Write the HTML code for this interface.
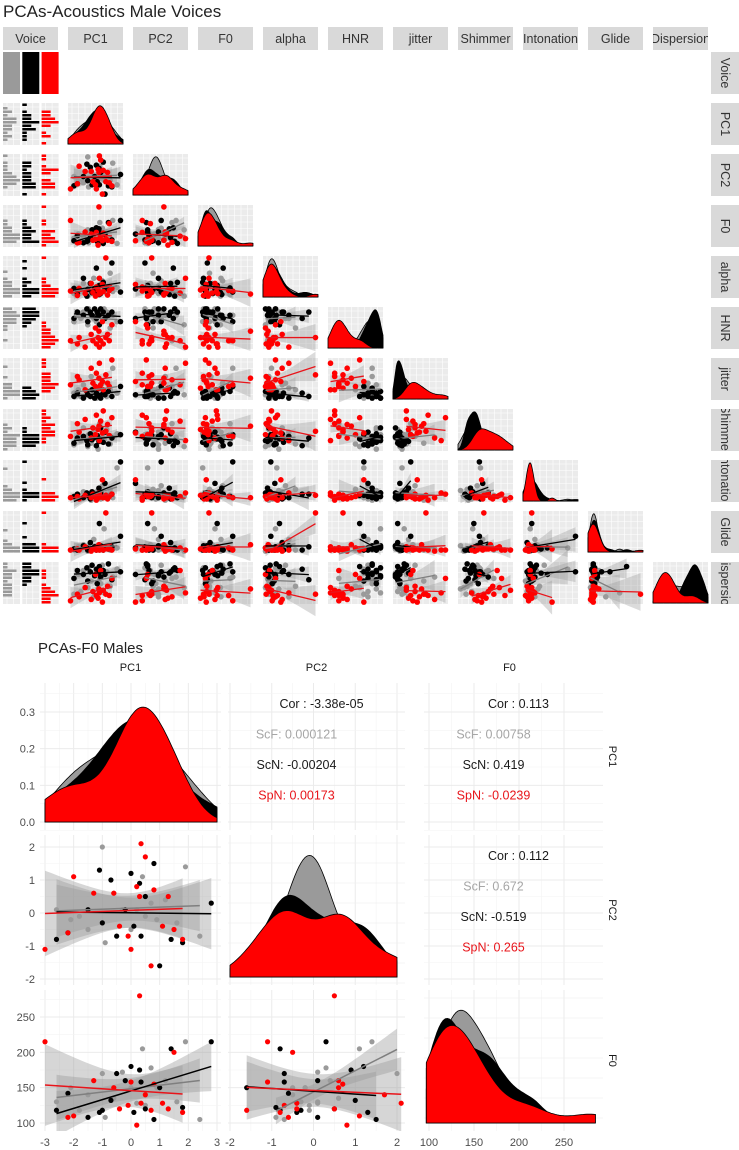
<!DOCTYPE html>
<html><head><meta charset="utf-8"><style>
body{margin:0;background:#fff;}
svg{display:block;font-family:"Liberation Sans",Arial,sans-serif;}
</style></head><body>
<svg id="chart" width="739" height="1150" viewBox="0 0 739 1150" xmlns="http://www.w3.org/2000/svg"></svg>
<script>
// ---- data ----
const groups = ['ScF','ScN','SpN'];
const groupColors = ['#9a9a9a','#000000','#ff0000'];
const varNames = ['PC1','PC2','F0','alpha','HNR','jitter','Shimmer','Intonation','Glide','Dispersion'];
const pc1 = [
 [-2.6,-2.1,-1.8,-1.5,-1.0,-0.9,-0.6,-0.3,0,0.2,0.4,0.5,0.7,0.9,1.2,1.6,1.9,2.4],
 [-2.6,-2.2,-1.5,-1.1,-1.0,-0.7,-0.5,-0.2,0,0.1,0.3,0.35,0.5,0.8,1.0,1.4,1.8,2.8],
 [-3.0,-2.2,-2.0,-1.3,-0.6,-0.4,-0.1,0,0.2,0.3,0.35,0.5,0.7,0.8,1.1,1.3,1.5,1.8]];
const pc2 = [
 [0.1,-0.2,-0.1,-0.5,2.0,-0.9,0.6,0.1,-0.5,0.1,1.1,-0.1,0.3,-0.2,0.4,-0.3,1.4,-0.7],
 [-0.8,-0.6,0.1,1.3,-0.3,1.0,-0.7,0.1,1.2,-0.4,0.9,-0.7,0.5,1.5,-1.6,-0.8,-0.9,0.3],
 [-1.1,-0.6,1.1,0.6,0.6,-0.4,-0.7,-1.1,0.8,0.5,2.1,1.7,-1.6,0.7,-0.4,0.5,-0.5,-0.8]];
const f0 = [
 [130,150,118,140,170,108,135,172,150,128,205,125,178,150,160,130,215,105],
 [118,142,108,115,118,132,170,160,180,115,175,158,120,105,150,205,122,215],
 [215,108,110,160,150,120,125,158,97,280,128,140,118,155,128,120,200,115]];
const alpha = [
 [2,3,2.5,4,1.5,3,2,5,2.2,3.5,1.8,2.6,4.5,3,2,6,2.4,3.2],
 [3,2,5,1.5,2.8,4,2.2,3,7,2.5,1.8,3.6,2,4.2,2.9,3.1,8,2.3],
 [2.5,1.6,3,2,4,2.2,1.5,3.3,2.7,1.9,5,2.1,3.8,2.4,9,1.7,2.6,3]];
const hnr = [
 [14,16,15,17,13,18,16,15,14,17,8,16,15,18,17,12,16,14],
 [15,17,16,18,14,17,16,18,15,17,16,13,18,17,15,16,17,14],
 [8,7,9,6,10,8,12,7,9,11,6,8,14,7,9,10,8,13]];
const jitter = [
 [1,1.2,0.8,1.5,0.9,1.1,2,1.3,0.7,1,1.4,0.9,1.6,1.1,0.8,1.2,2.5,1],
 [0.8,1,0.7,1.1,0.9,0.8,1.2,0.7,1,0.9,1.3,0.8,0.7,1,0.9,1.1,0.8,1.4],
 [1.5,2,1.8,1.2,2.5,1.6,1.4,2.2,1.3,1.9,2.8,1.5,1.7,1.2,2.1,1.6,1.4,3]];
const shimmer = [
 [4,5,4.5,6,3.8,5.2,4.2,5.5,4.8,3.5,6.5,4.4,5,4.6,5.8,4.1,4.9,5.3],
 [4.2,4.8,5,4.5,4,5.3,4.6,4.9,3.9,5.1,4.4,4.7,6,4.3,5.5,4.1,4.8,5.2],
 [5,6.5,5.5,7,4.8,6,5.2,7.5,5.8,6.2,4.5,6.8,5.4,8,5.6,6.4,5.1,7.2]];
const intonation = [
 [2,2.2,1.9,2.5,2.1,2.3,1.8,2.4,2,2.6,2.2,1.9,3,2.1,2.3,2.7,2,4.5],
 [2.1,2.3,2,2.4,2.2,1.9,2.5,2.1,2.3,2,2.8,2.2,2.4,2,3.2,2.1,2.3,5],
 [2,2.1,1.9,2.2,2,2.3,2.1,1.8,2.2,2,2.4,2.1,3.5,2,2.2,1.9,2.1,2.3]];
const glide = [
 [0.5,0.8,0.6,1,0.4,0.7,0.5,1.5,0.6,0.9,0.5,0.7,0.6,2.5,0.8,0.5,0.6,0.7],
 [0.6,0.5,0.9,0.7,0.5,1.2,0.6,0.8,0.5,0.7,0.6,3,0.9,0.5,0.7,0.6,0.8,1.8],
 [0.5,0.6,0.5,0.8,0.4,0.6,0.7,0.5,0.6,1,0.5,0.7,0.6,0.5,4,0.6,0.7,0.5]];
const dispersion = [
 [40,55,42,58,45,60,50,38,56,44,52,48,62,41,57,46,53,59],
 [52,58,55,60,50,57,62,54,59,48,56,61,53,58,55,63,51,57],
 [35,40,38,45,36,42,55,39,37,44,41,58,34,43,40,46,39,52]];
const allVars = [pc1,pc2,f0,alpha,hnr,jitter,shimmer,intonation,glide,dispersion];
const pc1Ticks = [-3,-2,-1,0,1,2,3];
const pc2Ticks = [-2,-1,0,1,2];
const f0Ticks = [100,150,200,250];
const densTicks = [0.0,0.1,0.2,0.3];
const corPC1PC2 = ['Cor : -3.38e-05','ScF: 0.000121','ScN: -0.00204','SpN: 0.00173'];
const corPC1F0 = ['Cor : 0.113','ScF: 0.00758','ScN: 0.419','SpN: -0.0239'];
const corPC2F0 = ['Cor : 0.112','ScF: 0.672','ScN: -0.519','SpN: 0.265'];

// ---- helpers ----
const svg = document.getElementById('chart');
const NS = 'http://www.w3.org/2000/svg';
function el(tag, attrs, parent){const e=document.createElementNS(NS,tag);for(const k in attrs)e.setAttribute(k,attrs[k]);(parent||svg).appendChild(e);return e;}
function lin(d0,d1,r0,r1){return v=>r0+(v-d0)/(d1-d0)*(r1-r0);}
function mean(a){return a.reduce((s,v)=>s+v,0)/a.length;}
function sd(a){const m=mean(a);return Math.sqrt(a.reduce((s,v)=>s+(v-m)*(v-m),0)/(a.length-1));}
function kde(a,x){const h=1.06*sd(a)*Math.pow(a.length,-0.2)*0.85;let s=0;for(const v of a){const u=(x-v)/h;s+=Math.exp(-0.5*u*u);}return s/(a.length*h*Math.sqrt(2*Math.PI));}
function fit(xs,ys){const mx=mean(xs),my=mean(ys);let sxx=0,sxy=0;for(let i=0;i<xs.length;i++){sxx+=(xs[i]-mx)**2;sxy+=(xs[i]-mx)*(ys[i]-my);}const b=sxy/sxx,a=my-b*mx;let sse=0;for(let i=0;i<xs.length;i++)sse+=(ys[i]-a-b*xs[i])**2;const s=Math.sqrt(sse/(xs.length-2));return {a,b,s,mx,sxx,n:xs.length};}
function rangeOf(v){const f=v.flat();const mn=Math.min(...f),mx=Math.max(...f);const p=(mx-mn)*0.05;return [mn-p,mx+p];}
let clipId=0;
function clipRect(x,y,w,h){const id='c'+(clipId++);const cp=el('clipPath',{id});el('rect',{x,y,width:w,height:h},cp);return 'url(#'+id+')';}

function drawScatter(g,xs,ys,sx,sy,x0,x1,r,bandOpacity,lw){
  for(let k=0;k<3;k++){
    const f=fit(xs[k],ys[k]);
    const xmin=Math.min(...xs[k]),xmax=Math.max(...xs[k]);
    let up=[],lo=[];
    for(let i=0;i<=20;i++){const x=xmin+(xmax-xmin)*i/20;const yh=f.a+f.b*x;const se=f.s*Math.sqrt(1/f.n+(x-f.mx)**2/f.sxx)*2.1;up.push(sx(x).toFixed(1)+','+sy(yh+se).toFixed(1));lo.unshift(sx(x).toFixed(1)+','+sy(yh-se).toFixed(1));}
    const band=el('polygon',{points:up.concat(lo).join(' '),fill:'#999',opacity:bandOpacity},g);
    
    
  }
  for(let k=0;k<3;k++){
    for(let i=0;i<xs[k].length;i++){
      const c=el('circle',{cx:sx(xs[k][i]),cy:sy(ys[k][i]),r,fill:groupColors[k]},g);
      
      
    }
  }
  const lineCols=['#7f7f7f','#000','#e8141a'];
  for(let k=0;k<3;k++){
    const f=fit(xs[k],ys[k]);
    const xmin=Math.min(...xs[k]),xmax=Math.max(...xs[k]);
    const ln=el('line',{x1:sx(xmin),y1:sy(f.a+f.b*xmin),x2:sx(xmax),y2:sy(f.a+f.b*xmax),stroke:lineCols[k],'stroke-width':lw},g);
    
    
  }
}
function drawDensity(g,vals,sx,sy,d0,d1,ymaxAuto,yTop,yBot){
  const N=80;let dens=[];let mx=0;
  for(let k=0;k<3;k++){const arr=[];for(let i=0;i<=N;i++){const x=d0+(d1-d0)*i/N;const y=kde(vals[k],x);arr.push([x,y]);if(y>mx)mx=y;}dens.push(arr);}
  let syy=sy; if(ymaxAuto) syy=lin(0,mx*1.02,yBot,yTop);
  for(let k=0;k<3;k++){
    const pts=dens[k].map(p=>sx(p[0]).toFixed(1)+','+syy(p[1]).toFixed(1));
    const poly=el('polygon',{points:sx(d0)+','+syy(0)+' '+pts.join(' ')+' '+sx(d1)+','+syy(0),fill:groupColors[k],stroke:'#000','stroke-width':0.8},g);
    
    
  }
}

// ================= TOP MATRIX =================
const title1=el('text',{x:3,y:17,'font-size':17,fill:'#222'});
title1.textContent='PCAs-Acoustics Male Voices';


const colX=i=>3+65*i, rowY=i=>52+51*i, CW=55, CH=42;
const stripNames=['Voice'].concat(varNames);
for(let i=0;i<11;i++){
  const sg=el('g',{'clip-path':clipRect(colX(i),27,CW,23)});
  const r=el('rect',{x:colX(i),y:27,width:CW,height:23,fill:'#d9d9d9'},sg);
  
  
  const t=el('text',{x:colX(i)+CW/2,y:43,'font-size':12.5,'text-anchor':'middle',fill:'#333'},sg);
  t.textContent=stripNames[i];
  
  
  const rg=el('g',{'clip-path':clipRect(711,rowY(i),28,CH)});
  const rr=el('rect',{x:711,y:rowY(i),width:28,height:CH,fill:'#d9d9d9'},rg);
  
  
  const rt=el('text',{x:0,y:0,'font-size':12.5,'text-anchor':'middle',fill:'#333',transform:'translate(721,'+(rowY(i)+CH/2)+') rotate(90)'},rg);
  rt.textContent=stripNames[i];
  
  
}
function panelBg(g,x,y,w,h){
  const r=el('rect',{x,y,width:w,height:h,fill:'#ebebeb'},g);
  
  
  for(let gx=x+4;gx<x+w;gx+=6.5)el('line',{x1:gx,y1:y,x2:gx,y2:y+h,stroke:'#fff','stroke-width':0.6},g);
  for(let gy=y+4;gy<y+h;gy+=6.5)el('line',{x1:x,y1:gy,x2:x+w,y2:gy,stroke:'#fff','stroke-width':0.6},g);
}
{
  const g=el('g',{});
  
  
  const maxN=Math.max(...pc1.map(a=>a.length));
  for(let k=0;k<3;k++){
    const h=CH*pc1[k].length/maxN;
    const b=el('rect',{x:colX(0)+k*19.3,y:rowY(0)+CH-h,width:17,height:h,fill:groupColors[k]},g);
    
    
  }
}
const ranges=allVars.map(rangeOf);
for(let r=1;r<=10;r++){
  const vy=allVars[r-1], ry=ranges[r-1];
  const y0=rowY(r);
  {
    const g=el('g',{});
    
    
    const nb=12;
    for(let k=0;k<3;k++){
      const x0=colX(0)+k*19.3;
      panelBg(g,x0,y0,17,CH);
      const counts=new Array(nb).fill(0);
      for(const v of vy[k]){let b=Math.floor((v-ry[0])/(ry[1]-ry[0])*nb);b=Math.max(0,Math.min(nb-1,b));counts[b]++;}
      for(let b=0;b<nb;b++){if(!counts[b])continue;
        const bh=CH/nb;
        const bar=el('rect',{x:x0,y:y0+CH-(b+1)*bh+0.5,width:Math.min(17,counts[b]*4.5),height:bh-1,fill:groupColors[k]},g);
        
        
      }
    }
  }
  const syTop=lin(ry[0],ry[1],y0+CH,y0);
  for(let c=1;c<r;c++){
    const vx=allVars[c-1],rx=ranges[c-1];
    const g=el('g',{});
    
    
    panelBg(g,colX(c),y0,CW,CH);
    const sx=lin(rx[0],rx[1],colX(c),colX(c)+CW);
    drawScatter(g,vx,vy,sx,syTop,0,0,2.8,0.35,1.3);
  }
  {
    const g=el('g',{});
    
    
    panelBg(g,colX(r),y0,CW,CH);
    const sx=lin(ry[0],ry[1],colX(r),colX(r)+CW);
    drawDensity(g,vy,sx,null,ry[0],ry[1],true,y0+2,y0+CH-1);
  }
}

// ================= BOTTOM MATRIX =================
const title2=el('text',{x:38,y:653,'font-size':15,fill:'#222'});
title2.textContent='PCAs-F0 Males';


const colP=[[40,221],[228,405],[424,603]];
const rowP=[[683,830],[835,985],[990,1131]];
const xScales=[lin(-3,3,45,217),lin(-2,2,230,397),lin(100,250,429,564)];
const xDom=[[-3,3],[-2,2],[97,285]];
const yScales=[lin(0,0.3,822,712),lin(-2,2,979,847),lin(100,250,1123,1017)];
const xTicks=[pc1Ticks,pc2Ticks,f0Ticks];
const yTicks=[densTicks,pc2Ticks,f0Ticks];
const bVars=[pc1,pc2,f0];
const bNames=['PC1','PC2','F0'];
function gridBottom(g,c,r){
  const [x0,x1]=colP[c],[y0,y1]=rowP[r];
  const xt=xTicks[c],sx=xScales[c];
  for(let i=0;i<xt.length;i++){el('line',{x1:sx(xt[i]),y1:y0,x2:sx(xt[i]),y2:y1,stroke:'#ebebeb','stroke-width':1},g);
    if(i<xt.length-1){const m=(xt[i]+xt[i+1])/2;el('line',{x1:sx(m),y1:y0,x2:sx(m),y2:y1,stroke:'#f3f3f3','stroke-width':0.6},g);}}
  const yt=yTicks[r],sy=yScales[r];
  if(c!==r||r===0){
    for(let i=0;i<yt.length;i++){el('line',{x1:x0,y1:sy(yt[i]),x2:x1,y2:sy(yt[i]),stroke:'#ebebeb','stroke-width':1},g);
      const m=i<yt.length-1?(yt[i]+yt[i+1])/2:yt[i]+(yt[1]-yt[0])/2;el('line',{x1:x0,y1:sy(m),x2:x1,y2:sy(m),stroke:'#f3f3f3','stroke-width':0.6},g);}
  } else {
    for(let y=y0+8;y<y1;y+=20)el('line',{x1:x0,y1:y,x2:x1,y2:y,stroke:'#f1f1f1','stroke-width':0.8},g);
  }
}
const corTexts={'0-1':corPC1PC2,'0-2':corPC1F0,'1-2':corPC2F0};
for(let r=0;r<3;r++){
  for(let c=0;c<3;c++){
    const g=el('g',{'clip-path':clipRect(colP[c][0],rowP[r][0]-6,colP[c][1]-colP[c][0],rowP[r][1]-rowP[r][0]+6)});
    
    
    gridBottom(g,c,r);
    if(c===r){
      const sx=xScales[c];
      if(r===0) drawDensity(g,bVars[c],sx,yScales[0],xDom[c][0],xDom[c][1],false);
      else drawDensity(g,bVars[c],sx,null,xDom[c][0],xDom[c][1],true,rowP[r][0]+18,rowP[r][1]-8);
    } else if(c<r){
      drawScatter(g,bVars[c],bVars[r],xScales[c],yScales[r],0,0,2.6,0.4,1.5);
    } else {
      const txt=corTexts[r+'-'+c];
      const cx=(colP[c][0]+colP[c][1])/2;
      const cols=['#1a1a1a','#a6a6a6','#1a1a1a','#e8141a'];
      for(let i=0;i<4;i++){
        const t=el('text',{x:i===0?cx+5:cx-20,y:rowP[r][0]+25+i*30.5,'font-size':12.5,'text-anchor':'middle',fill:cols[i]},g);
        t.textContent=txt[i];
        
        
      }
    }
  }
  const yt=yTicks[r];
  for(const v of yt){
    const t=el('text',{x:35,y:yScales[r](v)+4,'font-size':11,'text-anchor':'end',fill:'#4d4d4d'});
    t.textContent=r===0?v.toFixed(1):String(v);
    
    
  }
  const rl=el('text',{x:0,y:0,'font-size':11,'text-anchor':'middle',fill:'#1a1a1a',transform:'translate(609,'+((rowP[r][0]+rowP[r][1])/2)+') rotate(90)'});
  rl.textContent=bNames[r];
  
  
}
for(let c=0;c<3;c++){
  const ct=el('text',{x:(colP[c][0]+colP[c][1])/2+(c===2?-4:0),y:671,'font-size':11,'text-anchor':'middle',fill:'#1a1a1a'});
  ct.textContent=bNames[c];
  
  
  for(const v of xTicks[c]){
    const t=el('text',{x:xScales[c](v),y:1146,'font-size':11,'text-anchor':'middle',fill:'#4d4d4d'});
    t.textContent=String(v);
    
    
  }
}
</script>
</body></html>
